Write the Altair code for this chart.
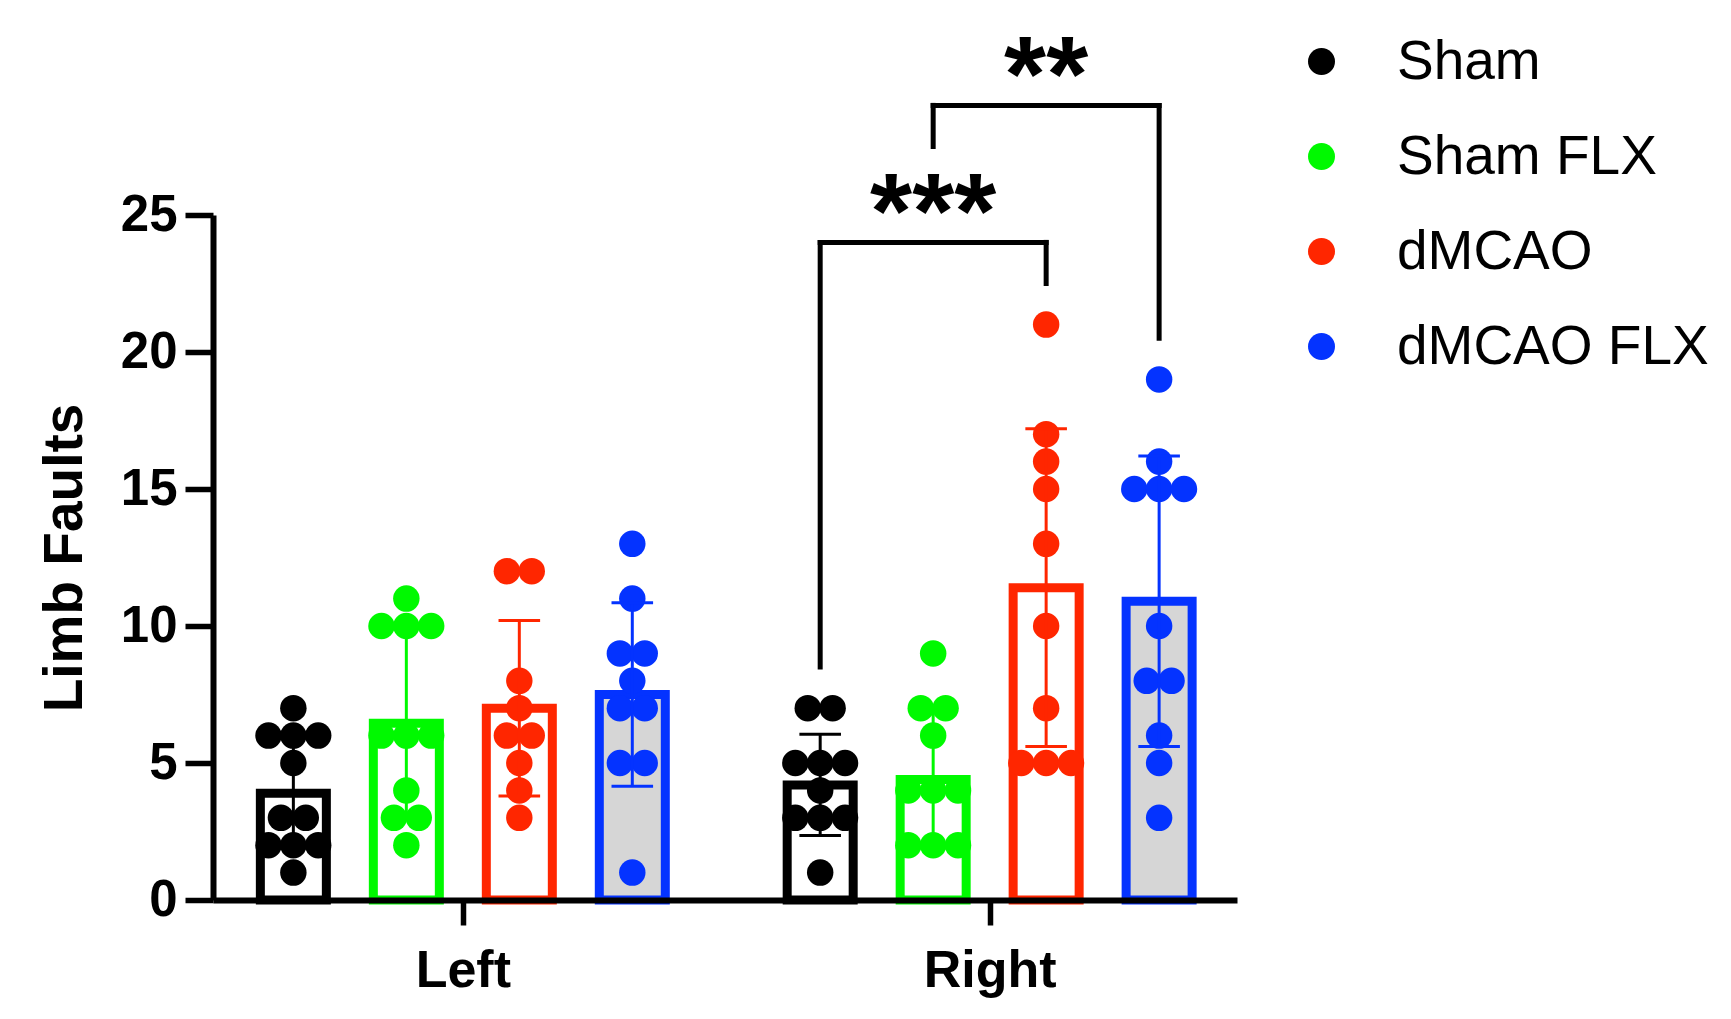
import altair as alt
import pandas as pd

# ---------------- data ----------------
groups = ["Sham", "Sham FLX", "dMCAO", "dMCAO FLX"]
sides = ["Left", "Right"]
line_colors = ["#000000", "#00F900", "#FF2600", "#0433FF"]
bar_fills = ["#FFFFFF", "#FFFFFF", "#FFFFFF", "#D6D6D6"]

left_means = [3.9, 6.45, 7.0, 7.5]
right_means = [4.2, 4.4, 11.4, 10.9]
left_sd = [2.0, 3.5, 3.2, 3.35]
right_sd = [1.85, 2.5, 5.8, 5.3]

left_sham = [7, 6, 6, 6, 5, 3, 3, 2, 2, 2, 1]
left_sham_flx = [11, 10, 10, 10, 6, 6, 6, 4, 3, 3, 2]
left_dmcao = [12, 12, 8, 7, 6, 6, 5, 4, 3]
left_dmcao_flx = [13, 11, 9, 9, 8, 7, 7, 5, 5, 1]
right_sham = [7, 7, 5, 5, 5, 4, 3, 3, 3, 1]
right_sham_flx = [9, 7, 7, 6, 4, 4, 4, 2, 2, 2]
right_dmcao = [21, 17, 16, 15, 13, 10, 7, 5, 5, 5]
right_dmcao_flx = [19, 16, 15, 15, 15, 10, 8, 8, 6, 5, 3]

y_ticks = [0, 5, 10, 15, 20, 25]

cmp_side = ["Right", "Right"]
cmp_from = ["Sham", "Sham FLX"]
cmp_to = ["dMCAO", "dMCAO FLX"]
cmp_level = [24, 29]
cmp_from_end = [8.5, 27.5]
cmp_to_end = [22.5, 20.5]
cmp_label = ["***", "**"]

# ---------------- layout constants (slot units) ----------------
GROUP_GAP = 4.663    # distance between Left and Right groups, in bar slots
JITTER = 0.22        # horizontal spread of tied points, in bar slots
CAP = 0.184          # half width of error-bar caps, in bar slots
X_MIN, X_MAX = -0.667, 8.308
FONT = "Liberation Sans"


def pos(side, group):
    return sides.index(side) * GROUP_GAP + groups.index(group)


means = {"Left": left_means, "Right": right_means}
sds = {"Left": left_sd, "Right": right_sd}
raw = {
    ("Left", "Sham"): left_sham, ("Left", "Sham FLX"): left_sham_flx,
    ("Left", "dMCAO"): left_dmcao, ("Left", "dMCAO FLX"): left_dmcao_flx,
    ("Right", "Sham"): right_sham, ("Right", "Sham FLX"): right_sham_flx,
    ("Right", "dMCAO"): right_dmcao, ("Right", "dMCAO FLX"): right_dmcao_flx,
}

bar_rows = []
for s in sides:
    for i, g in enumerate(groups):
        m, sd = means[s][i], sds[s][i]
        p = pos(s, g)
        bar_rows.append(dict(side=s, group=g, pos=p, mean=m, lo=m - sd, hi=m + sd,
                             cl=p - CAP, cr=p + CAP))
bar_df = pd.DataFrame(bar_rows)

pt_rows = []
for (s, g), vals in raw.items():
    p = pos(s, g)
    for v in sorted(set(vals), reverse=True):
        n = vals.count(v)
        for k in range(n):
            pt_rows.append(dict(side=s, group=g, value=v, xj=p + (k - (n - 1) / 2) * JITTER))
pt_df = pd.DataFrame(pt_rows)

seg_rows, lab_rows = [], []
for s, a, b, lev, ea, eb, lab in zip(cmp_side, cmp_from, cmp_to, cmp_level,
                                      cmp_from_end, cmp_to_end, cmp_label):
    xa, xb = pos(s, a), pos(s, b)
    seg_rows += [dict(x=xa, x2=xb, y=lev, y2=lev),
                 dict(x=xa, x2=xa, y=ea, y2=lev),
                 dict(x=xb, x2=xb, y=eb, y2=lev)]
    lab_rows.append(dict(x=(xa + xb) / 2, y=lev, label=lab))
seg_df = pd.DataFrame(seg_rows)
lab_df = pd.DataFrame(lab_rows)

centers = [pos(s, groups[0]) + (len(groups) - 1) / 2 for s in sides]

# ---------------- scales / axes ----------------
xscale = alt.Scale(domain=[X_MIN, X_MAX], nice=False, zero=False)
yscale = alt.Scale(domain=[0, 25], nice=False, zero=True)

xaxis = alt.Axis(values=centers,
                 labelExpr=f"datum.value < {GROUP_GAP / 2 + 1.5} ? 'Left' : 'Right'",
                 title="", grid=False, tickSize=25, tickWidth=5.5, tickColor="black",
                 domainWidth=6, domainColor="black", labelFont=FONT, labelFontSize=52,
                 labelFontWeight="bold", labelColor="black", labelPadding=20,
                 labelFlush=False, zindex=1)
yaxis = alt.Axis(values=y_ticks, title="Limb Faults", grid=False, tickSize=28, tickWidth=5.5,
                 tickColor="black", domainWidth=6, domainColor="black", labelFont=FONT,
                 labelFontSize=51, labelFontWeight="bold", labelColor="black",
                 labelPadding=8, titleFont=FONT, titleFontSize=55, titleFontWeight="bold",
                 titleColor="black", titlePadding=27, zindex=1)

# legend-less fill/stroke scales are listed in reverse order so that their (disabled)
# legends are not merged with the colour legend of the points
rev_groups = groups[::-1]
fill_scale = alt.Scale(domain=rev_groups, range=bar_fills[::-1])
stroke_scale = alt.Scale(domain=rev_groups, range=line_colors[::-1])


def X(field):
    return alt.X(field, scale=xscale, axis=xaxis)


def Y(field):
    return alt.Y(field, scale=yscale, axis=yaxis)


bars = alt.Chart(bar_df).mark_bar(size=66, strokeWidth=9).encode(
    x=X("pos:Q"),
    y=Y("mean:Q"),
    fill=alt.Fill("group:N", scale=fill_scale, legend=None),
    stroke=alt.Stroke("group:N", scale=stroke_scale, legend=None),
)

points = alt.Chart(pt_df).mark_circle(size=700, opacity=1).encode(
    x=X("xj:Q"),
    y=Y("value:Q"),
    color=alt.Color("group:N", scale=alt.Scale(domain=groups, range=line_colors),
                    legend=alt.Legend(title=None, orient="none", legendX=1081, legendY=-181,
                                      symbolSize=729, symbolType="circle",
                                      symbolStrokeWidth=0, symbolOpacity=1, labelFont=FONT,
                                      labelFontSize=55, labelColor="black",
                                      labelOffset=48, rowPadding=39, padding=0,
                                      labelLimit=600)),
)

whisk = alt.Chart(bar_df).mark_rule(strokeWidth=3).encode(
    x=X("pos:Q"),
    y=Y("lo:Q"),
    y2="hi:Q",
    stroke=alt.Stroke("group:N", scale=stroke_scale, legend=None),
)
cap_lo = alt.Chart(bar_df).mark_rule(strokeWidth=3).encode(
    x=X("cl:Q"), x2="cr:Q",
    y=Y("lo:Q"),
    stroke=alt.Stroke("group:N", scale=stroke_scale, legend=None),
)
cap_hi = alt.Chart(bar_df).mark_rule(strokeWidth=3).encode(
    x=X("cl:Q"), x2="cr:Q",
    y=Y("hi:Q"),
    stroke=alt.Stroke("group:N", scale=stroke_scale, legend=None),
)

brackets = alt.Chart(seg_df).mark_rule(strokeWidth=5, color="black", strokeCap="square").encode(
    x=X("x:Q"), x2="x2:Q",
    y=Y("y:Q"), y2="y2:Q",
)

stars = alt.Chart(lab_df).mark_text(font=FONT, fontSize=108, fontWeight="bold",
                                     color="black", baseline="alphabetic", align="center",
                                     dy=6).encode(
    x=X("x:Q"),
    y=Y("y:Q"),
    text="label:N",
)

chart = alt.layer(bars, points, whisk, cap_lo, cap_hi, brackets, stars).properties(
    width=1024, height=685,
    autosize=alt.AutoSizeParams(type="none"),
    padding={"left": 205, "top": 207, "right": 480, "bottom": 100},
    background="white",
).configure_view(stroke=None)

chart.save("out.html", embed_options={"renderer": "svg", "actions": False})
